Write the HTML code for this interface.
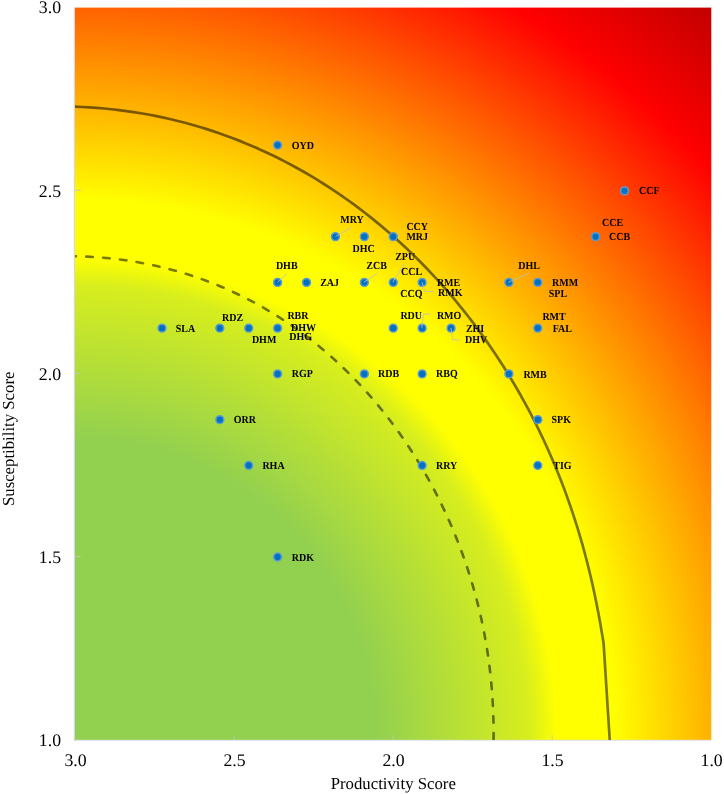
<!DOCTYPE html>
<html><head><meta charset="utf-8"><title>PSA plot</title>
<style>
html,body{margin:0;padding:0;background:#fff;}
body{position:relative;width:724px;height:794px;overflow:hidden;}
svg{display:block;position:absolute;left:0;top:0;}
#t{will-change:transform;}
.ax{font-family:"Liberation Serif",serif;font-size:17.75px;text-rendering:geometricPrecision;fill:#000;}
.lb{font-family:"Liberation Serif",serif;font-size:10px;font-weight:bold;text-rendering:geometricPrecision;fill:#000;}
</style></head><body>
<svg width="724" height="794" viewBox="0 0 724 794">
<defs>
<radialGradient id="g" gradientUnits="userSpaceOnUse" cx="74.9" cy="739.9" r="970.0"><stop offset="0.0000" stop-color="#92D050"/><stop offset="0.3093" stop-color="#92D050"/><stop offset="0.4691" stop-color="#D8EE1D"/><stop offset="0.4969" stop-color="#FFFF00"/><stop offset="0.5567" stop-color="#FFFF00"/><stop offset="0.8804" stop-color="#FF0000"/><stop offset="1.0000" stop-color="#C20000"/></radialGradient>
<clipPath id="c"><rect x="74.9" y="7.6" width="636.4" height="732.3"/></clipPath>
</defs>

<rect x="74.9" y="7.6" width="636.4" height="732.3" fill="url(#g)"/>
<line x1="74.35" y1="7.6" x2="74.35" y2="740.85" stroke="#d2d2e6" stroke-width="1.05"/>
<line x1="73.85" y1="740.4" x2="711.3" y2="740.4" stroke="#dcdcea" stroke-width="0.9"/>
<line x1="74.9" y1="190.3" x2="80.9" y2="190.3" stroke="#c4c4c4" stroke-opacity="0.8" stroke-width="1"/>
<line x1="74.9" y1="373.5" x2="80.9" y2="373.5" stroke="#c4c4c4" stroke-opacity="0.8" stroke-width="1"/>
<line x1="74.9" y1="556.6" x2="80.9" y2="556.6" stroke="#c4c4c4" stroke-opacity="0.8" stroke-width="1"/>
<line x1="234.3" y1="739.9" x2="234.3" y2="734.9" stroke="#c4c4c4" stroke-opacity="0.8" stroke-width="1"/>
<line x1="393.2" y1="739.9" x2="393.2" y2="734.9" stroke="#c4c4c4" stroke-opacity="0.8" stroke-width="1"/>
<line x1="552.2" y1="739.9" x2="552.2" y2="734.9" stroke="#c4c4c4" stroke-opacity="0.8" stroke-width="1"/>
<g clip-path="url(#c)">
<path d="M74.70,106.67 L82.10,106.98 L89.49,107.38 L96.87,107.90 L104.23,108.52 L111.59,109.25 L118.93,110.09 L126.26,111.04 L133.56,112.09 L140.85,113.26 L148.11,114.54 L155.35,115.92 L162.57,117.42 L169.75,119.02 L176.91,120.73 L184.03,122.55 L191.12,124.48 L198.18,126.51 L205.20,128.65 L212.18,130.89 L219.12,133.23 L226.02,135.68 L232.88,138.23 L239.69,140.88 L246.45,143.63 L253.17,146.47 L259.83,149.41 L266.45,152.44 L273.01,155.57 L279.52,158.79 L285.98,162.10 L292.38,165.49 L298.72,168.98 L305.01,172.54 L311.24,176.19 L317.40,179.93 L323.51,183.74 L329.55,187.63 L335.54,191.59 L341.46,195.63 L347.32,199.74 L353.11,203.93 L358.84,208.18 L364.50,212.50 L370.10,216.89 L375.63,221.34 L381.09,225.85 L386.49,230.43 L391.82,235.06 L397.09,239.75 L402.28,244.50 L407.41,249.30 L412.47,254.15 L417.46,259.05 L422.39,264.01 L427.24,269.01 L432.03,274.06 L436.75,279.16 L441.40,284.30 L445.98,289.48 L450.49,294.70 L454.94,299.97 L459.32,305.27 L463.63,310.61 L467.87,315.99 L472.05,321.40 L476.15,326.85 L480.19,332.33 L484.16,337.84 L488.07,343.38 L491.91,348.96 L495.68,354.56 L499.38,360.19 L503.02,365.85 L506.59,371.53 L510.10,377.24 L513.54,382.98 L516.91,388.74 L520.22,394.52 L523.46,400.32 L526.64,406.15 L529.75,411.99 L532.80,417.86 L535.78,423.74 L538.70,429.64 L541.56,435.57 L544.35,441.50 L547.08,447.46 L549.74,453.43 L552.35,459.41 L554.89,465.41 L557.36,471.43 L559.78,477.46 L562.13,483.50 L564.42,489.55 L566.65,495.61 L568.82,501.69 L570.93,507.78 L572.98,513.87 L574.97,519.98 L576.91,526.09 L578.78,532.21 L580.60,538.34 L582.36,544.48 L584.06,550.62 L585.71,556.77 L587.31,562.93 L588.85,569.09 L590.34,575.26 L591.78,581.43 L593.16,587.60 L594.50,593.78 L595.79,599.97 L597.03,606.15 L598.23,612.34 L599.38,618.53 L600.49,624.73 L601.56,630.93 L602.59,637.13 L603.59,643.33 L609.8,741" fill="none" stroke="#000" stroke-opacity="0.52" stroke-width="2.7" stroke-linejoin="round"/>
<path d="M74.70,256.18 L81.09,256.36 L87.47,256.63 L93.84,256.99 L100.21,257.46 L106.57,258.01 L112.92,258.67 L119.25,259.42 L125.57,260.27 L131.87,261.22 L138.15,262.27 L144.42,263.42 L150.66,264.68 L156.87,266.03 L163.06,267.49 L169.22,269.05 L175.35,270.71 L181.45,272.47 L187.52,274.32 L193.54,276.28 L199.54,278.34 L205.49,280.49 L211.40,282.75 L217.27,285.09 L223.09,287.53 L228.87,290.07 L234.60,292.70 L240.28,295.42 L245.90,298.22 L251.48,301.12 L257.01,304.10 L262.47,307.17 L267.89,310.32 L273.24,313.55 L278.54,316.86 L283.78,320.25 L288.96,323.72 L294.08,327.26 L299.13,330.88 L304.12,334.56 L309.05,338.32 L313.92,342.14 L318.72,346.03 L323.45,349.98 L328.12,353.99 L332.73,358.07 L337.26,362.20 L341.73,366.39 L346.14,370.64 L350.47,374.94 L354.74,379.29 L358.94,383.69 L363.08,388.14 L367.14,392.63 L371.14,397.17 L375.07,401.76 L378.93,406.38 L382.73,411.05 L386.45,415.76 L390.11,420.50 L393.70,425.28 L397.23,430.10 L400.69,434.95 L404.08,439.83 L407.40,444.74 L410.66,449.69 L413.85,454.66 L416.98,459.66 L420.04,464.69 L423.04,469.74 L425.97,474.82 L428.83,479.92 L431.63,485.05 L434.37,490.20 L437.04,495.37 L439.65,500.56 L442.19,505.77 L444.68,510.99 L447.09,516.24 L449.45,521.51 L451.74,526.79 L453.97,532.08 L456.14,537.40 L458.24,542.72 L460.28,548.06 L462.26,553.42 L464.18,558.79 L466.04,564.17 L467.83,569.56 L469.56,574.97 L471.24,580.38 L472.85,585.81 L474.39,591.24 L475.88,596.69 L477.31,602.14 L478.67,607.60 L479.98,613.07 L481.22,618.55 L482.40,624.04 L483.52,629.53 L484.58,635.02 L485.58,640.53 L486.52,646.03 L487.41,651.55 L488.23,657.06 L488.99,662.58 L489.69,668.10 L490.33,673.63 L490.91,679.16 L491.44,684.69 L491.90,690.22 L492.31,695.75 L492.67,701.28 L492.96,706.81 L493.20,712.35 L493.38,717.88 L493.51,723.41 L493.59,728.94 L493.61,734.47 L493.58,740.00" fill="none" stroke="#000" stroke-opacity="0.52" stroke-width="2.6" stroke-dasharray="6.6 10.28" stroke-dashoffset="5.331" stroke-linecap="round"/>
</g>
<circle cx="277.62" cy="145.12" r="3.9" fill="#0070C0" stroke="#5B9BD5" stroke-width="1.55"/>
<circle cx="624.49" cy="190.88" r="3.9" fill="#0070C0" stroke="#5B9BD5" stroke-width="1.55"/>
<circle cx="335.43" cy="236.64" r="3.9" fill="#0070C0" stroke="#5B9BD5" stroke-width="1.55"/>
<circle cx="364.34" cy="236.64" r="3.9" fill="#0070C0" stroke="#5B9BD5" stroke-width="1.55"/>
<circle cx="393.25" cy="236.64" r="3.9" fill="#0070C0" stroke="#5B9BD5" stroke-width="1.55"/>
<circle cx="595.59" cy="236.64" r="3.9" fill="#0070C0" stroke="#5B9BD5" stroke-width="1.55"/>
<circle cx="277.62" cy="282.40" r="3.9" fill="#0070C0" stroke="#5B9BD5" stroke-width="1.55"/>
<circle cx="306.53" cy="282.40" r="3.9" fill="#0070C0" stroke="#5B9BD5" stroke-width="1.55"/>
<circle cx="364.34" cy="282.40" r="3.9" fill="#0070C0" stroke="#5B9BD5" stroke-width="1.55"/>
<circle cx="393.25" cy="282.40" r="3.9" fill="#0070C0" stroke="#5B9BD5" stroke-width="1.55"/>
<circle cx="422.15" cy="282.40" r="3.9" fill="#0070C0" stroke="#5B9BD5" stroke-width="1.55"/>
<circle cx="508.87" cy="282.40" r="3.9" fill="#0070C0" stroke="#5B9BD5" stroke-width="1.55"/>
<circle cx="537.78" cy="282.40" r="3.9" fill="#0070C0" stroke="#5B9BD5" stroke-width="1.55"/>
<circle cx="162.00" cy="328.16" r="3.9" fill="#0070C0" stroke="#5B9BD5" stroke-width="1.55"/>
<circle cx="219.81" cy="328.16" r="3.9" fill="#0070C0" stroke="#5B9BD5" stroke-width="1.55"/>
<circle cx="248.72" cy="328.16" r="3.9" fill="#0070C0" stroke="#5B9BD5" stroke-width="1.55"/>
<circle cx="277.62" cy="328.16" r="3.9" fill="#0070C0" stroke="#5B9BD5" stroke-width="1.55"/>
<circle cx="393.25" cy="328.16" r="3.9" fill="#0070C0" stroke="#5B9BD5" stroke-width="1.55"/>
<circle cx="422.15" cy="328.16" r="3.9" fill="#0070C0" stroke="#5B9BD5" stroke-width="1.55"/>
<circle cx="451.06" cy="328.16" r="3.9" fill="#0070C0" stroke="#5B9BD5" stroke-width="1.55"/>
<circle cx="537.78" cy="328.16" r="3.9" fill="#0070C0" stroke="#5B9BD5" stroke-width="1.55"/>
<circle cx="277.62" cy="373.92" r="3.9" fill="#0070C0" stroke="#5B9BD5" stroke-width="1.55"/>
<circle cx="364.34" cy="373.92" r="3.9" fill="#0070C0" stroke="#5B9BD5" stroke-width="1.55"/>
<circle cx="422.15" cy="373.92" r="3.9" fill="#0070C0" stroke="#5B9BD5" stroke-width="1.55"/>
<circle cx="508.87" cy="373.92" r="3.9" fill="#0070C0" stroke="#5B9BD5" stroke-width="1.55"/>
<circle cx="219.81" cy="419.68" r="3.9" fill="#0070C0" stroke="#5B9BD5" stroke-width="1.55"/>
<circle cx="537.78" cy="419.68" r="3.9" fill="#0070C0" stroke="#5B9BD5" stroke-width="1.55"/>
<circle cx="248.72" cy="465.44" r="3.9" fill="#0070C0" stroke="#5B9BD5" stroke-width="1.55"/>
<circle cx="422.15" cy="465.44" r="3.9" fill="#0070C0" stroke="#5B9BD5" stroke-width="1.55"/>
<circle cx="537.78" cy="465.44" r="3.9" fill="#0070C0" stroke="#5B9BD5" stroke-width="1.55"/>
<circle cx="277.62" cy="556.96" r="3.9" fill="#0070C0" stroke="#5B9BD5" stroke-width="1.55"/>
<polyline points="351.5,227.3 335.7,236.4" fill="none" stroke="#c0c0c0" stroke-opacity="0.85" stroke-width="1"/>
<polyline points="287.0,273.7 277.7,282.2" fill="none" stroke="#c0c0c0" stroke-opacity="0.85" stroke-width="1"/>
<polyline points="377.3,273.3 364.0,282.2" fill="none" stroke="#c0c0c0" stroke-opacity="0.85" stroke-width="1"/>
<polyline points="404.6,263.6 392.8,282.2" fill="none" stroke="#c0c0c0" stroke-opacity="0.85" stroke-width="1"/>
<polyline points="422.0,282.2 424.8,291.4 433.7,291.6" fill="none" stroke="#c0c0c0" stroke-opacity="0.85" stroke-width="1"/>
<polyline points="529.3,273.2 508.4,282.2" fill="none" stroke="#c0c0c0" stroke-opacity="0.85" stroke-width="1"/>
<polyline points="421.8,327.9 423.4,314.1 430.6,314.1" fill="none" stroke="#c0c0c0" stroke-opacity="0.85" stroke-width="1"/>
<polyline points="450.9,327.9 452.6,339.8 459.6,339.8" fill="none" stroke="#c0c0c0" stroke-opacity="0.85" stroke-width="1"/>
</svg>
<svg id="t" width="724" height="794" viewBox="0 0 724 794">
<text class="lb" transform="translate(291.8,148.7) scale(1,1.08)">OYD</text>
<text class="lb" transform="translate(639.0,194.3) scale(1,1.08)">CCF</text>
<text class="lb" transform="translate(340.2,223.1) scale(1,1.08)">MRY</text>
<text class="lb" transform="translate(352.6,252.1) scale(1,1.08)">DHC</text>
<text class="lb" transform="translate(406.4,230.0) scale(1,1.08)">CCY</text>
<text class="lb" transform="translate(406.4,240.0) scale(1,1.08)">MRJ</text>
<text class="lb" transform="translate(602.0,226.4) scale(1,1.08)">CCE</text>
<text class="lb" transform="translate(609.0,240.0) scale(1,1.08)">CCB</text>
<text class="lb" transform="translate(275.9,269.1) scale(1,1.08)">DHB</text>
<text class="lb" transform="translate(320.2,286.0) scale(1,1.08)">ZAJ</text>
<text class="lb" transform="translate(366.3,268.8) scale(1,1.08)">ZCB</text>
<text class="lb" transform="translate(395.2,259.6) scale(1,1.08)">ZPU</text>
<text class="lb" transform="translate(401.1,275.1) scale(1,1.08)">CCL</text>
<text class="lb" transform="translate(436.9,286.2) scale(1,1.08)">RME</text>
<text class="lb" transform="translate(438.1,296.2) scale(1,1.08)">RMK</text>
<text class="lb" transform="translate(400.2,297.0) scale(1,1.08)">CCQ</text>
<text class="lb" transform="translate(518.2,269.1) scale(1,1.08)">DHL</text>
<text class="lb" transform="translate(552.0,285.7) scale(1,1.08)">RMM</text>
<text class="lb" transform="translate(548.8,297.1) scale(1,1.08)">SPL</text>
<text class="lb" transform="translate(175.7,331.8) scale(1,1.08)">SLA</text>
<text class="lb" transform="translate(222.1,320.7) scale(1,1.08)">RDZ</text>
<text class="lb" transform="translate(251.9,342.6) scale(1,1.08)">DHM</text>
<text class="lb" transform="translate(287.4,318.8) scale(1,1.08)">RBR</text>
<text class="lb" transform="translate(291.0,331.4) scale(1,1.08)">DHW</text>
<text class="lb" transform="translate(289.3,339.8) scale(1,1.08)">DHG</text>
<text class="lb" transform="translate(400.4,318.6) scale(1,1.08)">RDU</text>
<text class="lb" transform="translate(436.9,318.6) scale(1,1.08)">RMO</text>
<text class="lb" transform="translate(465.9,331.5) scale(1,1.08)">ZHI</text>
<text class="lb" transform="translate(465.1,343.4) scale(1,1.08)">DHV</text>
<text class="lb" transform="translate(542.4,319.6) scale(1,1.08)">RMT</text>
<text class="lb" transform="translate(552.7,331.7) scale(1,1.08)">FAL</text>
<text class="lb" transform="translate(291.8,377.1) scale(1,1.08)">RGP</text>
<text class="lb" transform="translate(378.0,377.1) scale(1,1.08)">RDB</text>
<text class="lb" transform="translate(436.0,377.1) scale(1,1.08)">RBQ</text>
<text class="lb" transform="translate(523.4,377.9) scale(1,1.08)">RMB</text>
<text class="lb" transform="translate(233.7,423.2) scale(1,1.08)">ORR</text>
<text class="lb" transform="translate(551.5,423.0) scale(1,1.08)">SPK</text>
<text class="lb" transform="translate(262.4,469.3) scale(1,1.08)">RHA</text>
<text class="lb" transform="translate(436.0,469.3) scale(1,1.08)">RRY</text>
<text class="lb" transform="translate(553.3,469.4) scale(1,1.08)">TIG</text>
<text class="lb" transform="translate(291.8,560.6) scale(1,1.08)">RDK</text>
<text class="ax" x="61" y="746.1" text-anchor="end">1.0</text>
<text class="ax" x="61" y="563.0" text-anchor="end">1.5</text>
<text class="ax" x="61" y="379.9" text-anchor="end">2.0</text>
<text class="ax" x="61" y="196.9" text-anchor="end">2.5</text>
<text class="ax" x="61" y="12.9" text-anchor="end">3.0</text>
<text class="ax" x="75.58" y="766" text-anchor="middle">3.0</text>
<text class="ax" x="234.59" y="766" text-anchor="middle">2.5</text>
<text class="ax" x="393.59" y="766" text-anchor="middle">2.0</text>
<text class="ax" x="552.59" y="766" text-anchor="middle">1.5</text>
<text class="ax" x="711.60" y="766" text-anchor="middle">1.0</text>
<text class="ax" x="393.3" y="788.5" text-anchor="middle" style="font-size:16.75px">Productivity Score</text>
<text class="ax" x="0" y="0" text-anchor="middle" style="font-size:16.75px" transform="translate(14.2,438.8) rotate(-90)">Susceptibility Score</text>
</svg></body></html>
